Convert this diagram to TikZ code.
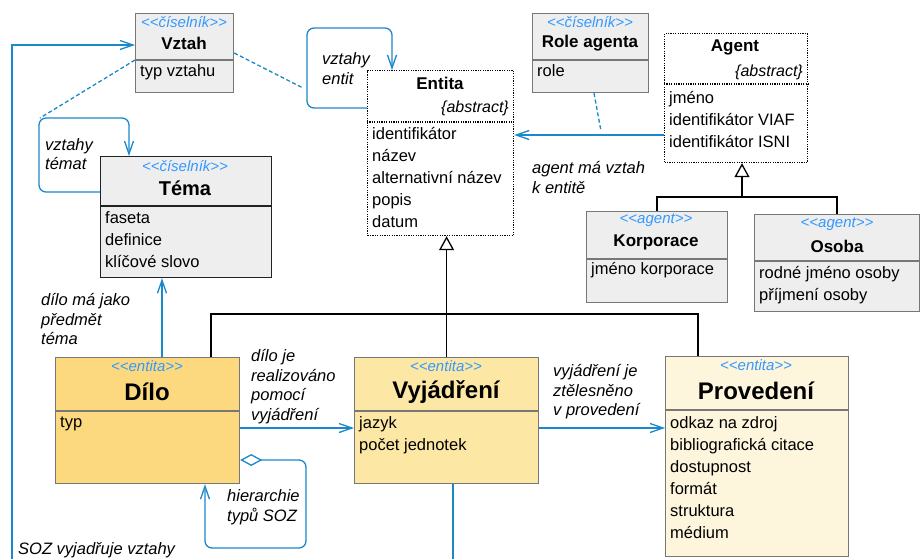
\documentclass[tikz,border=0pt]{standalone}
\usepackage{fontspec}
\setmainfont{Liberation Sans}
\usetikzlibrary{arrows.meta,calc}
\definecolor{boxgray}{HTML}{EEEEEE}
\definecolor{boxborder}{HTML}{777777}
\definecolor{temaborder}{HTML}{222222}
\definecolor{diloc}{HTML}{FCD97E}
\definecolor{vyjc}{HTML}{FDE7A4}
\definecolor{provc}{HTML}{FEF5DD}
\definecolor{linkblue}{HTML}{1A88C9}
\definecolor{stereoblue}{HTML}{3399FF}
\newcommand{\stereotxt}[1]{<\kern0pt<#1>\kern0pt>}
\begin{document}
\begin{tikzpicture}[x=1pt,y=-1pt,
  cls/.style={rectangle, inner sep=0pt, anchor=north west, line width=1.2pt},
  grayc/.style={cls, fill=boxgray, draw=boxborder},
  absc/.style={cls, fill=white, draw=black, dash pattern=on 1.2pt off 1.2pt},
  sepl/.style={line width=1.2pt, draw=boxborder},
  stereo/.style={font=\fontsize{15}{18}\selectfont\itshape, text=stereoblue, inner sep=0pt},
  ttl/.style={font=\fontsize{17}{20}\selectfont\bfseries, inner sep=0pt},
  bigttl/.style={font=\fontsize{24}{28}\selectfont\bfseries, inner sep=0pt},
  attrs/.style={font=\fontsize{16.5}{22}\selectfont, align=left, anchor=west, inner sep=0pt},
  lbl/.style={font=\fontsize{16.5}{19.5}\selectfont\itshape, align=left, anchor=west, inner sep=0pt},
  link/.style={draw=linkblue, line width=1.3pt},
  assoc/.style={link, -{Straight Barb[length=13pt,width=9pt,line width=1.3pt]}},
  dashl/.style={link, dash pattern=on 4pt off 2.5pt},
  gen/.style={draw=black, line width=1.3pt},
  gentip/.style={gen, -{Triangle[open,length=14pt,width=15pt,fill=white,line width=1.3pt]}}
]
\useasboundingbox (0,0) rectangle (920,558);

% ---------- boxes ----------
\node[grayc, minimum width=98pt, minimum height=79pt] (vztah) at (135,13) {};
\draw[sepl] ($(vztah.north west)+(0,47)$) -- ($(vztah.north east)+(0,47)$);
\node[stereo] (vztahS) at (184,22) {\stereotxt{číselník}};
\node[ttl] (vztahT) at (184,43) {Vztah};
\node[attrs] (vztahA) at (140,72) {typ vztahu};

\node[grayc, minimum width=116pt, minimum height=79pt] (role) at (532,13) {};
\draw[sepl] ($(role.north west)+(0,47)$) -- ($(role.north east)+(0,47)$);
\node[stereo] (roleS) at (590,22) {\stereotxt{číselník}};
\node[ttl] (roleT) at (590,43) {Role agenta};
\node[attrs] (roleA) at (537,71) {role};

\node[absc, minimum width=143pt, minimum height=129pt] (agent) at (664,33) {};
\draw[line width=1.2pt, dash pattern=on 1.2pt off 1.2pt] ($(agent.north west)+(0,51)$) -- ($(agent.north east)+(0,51)$);
\node[ttl] (agentT) at (735,47) {Agent};
\node[font=\fontsize{16}{19}\selectfont\itshape, anchor=east, inner sep=0pt] (agentAb) at (803,72) {\{abstract\}};
\node[attrs] (agentA) at (669,119) {jméno\\identifikátor VIAF\\identifikátor ISNI};

\node[absc, minimum width=146pt, minimum height=165pt] (entita) at (367,70) {};
\draw[line width=1.2pt, dash pattern=on 1.2pt off 1.2pt] ($(entita.north west)+(0,52)$) -- ($(entita.north east)+(0,52)$);
\node[ttl] (entitaT) at (440,83) {Entita};
\node[font=\fontsize{16}{19}\selectfont\itshape, anchor=east, inner sep=0pt] (entitaAb) at (509,108) {\{abstract\}};
\node[attrs] (entitaA) at (372,177) {identifikátor\\název\\alternativní název\\popis\\datum};

\node[cls, fill=boxgray, draw=temaborder, minimum width=171pt, minimum height=121pt] (tema) at (100,156) {};
\draw[line width=1.2pt, draw=temaborder] ($(tema.north west)+(0,50)$) -- ($(tema.north east)+(0,50)$);
\node[stereo] (temaS) at (185,166) {\stereotxt{číselník}};
\node[font=\fontsize{20}{24}\selectfont\bfseries, inner sep=0pt] (temaT) at (185,188) {Téma};
\node[attrs] (temaA) at (105,240) {faseta\\definice\\klíčové slovo};

\node[grayc, minimum width=141pt, minimum height=91pt] (korp) at (586,211) {};
\draw[sepl] ($(korp.north west)+(0,48)$) -- ($(korp.north east)+(0,48)$);
\node[stereo] (korpS) at (656,220) {\stereotxt{agent}};
\node[ttl] (korpT) at (656,242) {Korporace};
\node[attrs] (korpA) at (591,270) {jméno korporace};

\node[grayc, minimum width=165pt, minimum height=97pt] (osoba) at (754,214) {};
\draw[sepl] ($(osoba.north west)+(0,47)$) -- ($(osoba.north east)+(0,47)$);
\node[stereo] (osobaS) at (837,224) {\stereotxt{agent}};
\node[ttl] (osobaT) at (837,246) {Osoba};
\node[attrs] (osobaA) at (759,285) {rodné jméno osoby\\příjmení osoby};

\node[cls, fill=diloc, draw=boxborder, minimum width=184pt, minimum height=126pt] (dilo) at (55,357) {};
\draw[sepl] ($(dilo.north west)+(0,54)$) -- ($(dilo.north east)+(0,54)$);
\node[stereo] (diloS) at (147,366) {\stereotxt{entita}};
\node[bigttl] (diloT) at (147,392) {Dílo};
\node[attrs] (diloA) at (60,424) {typ};

\node[cls, fill=vyjc, draw=boxborder, minimum width=184pt, minimum height=126pt] (vyj) at (354,357) {};
\draw[sepl] ($(vyj.north west)+(0,54)$) -- ($(vyj.north east)+(0,54)$);
\node[stereo] (vyjS) at (446,366) {\stereotxt{entita}};
\node[bigttl] (vyjT) at (446,392) {Vyjádření};
\node[attrs] (vyjA) at (359,435) {jazyk\\počet jednotek};

\node[cls, fill=provc, draw=boxborder, minimum width=183pt, minimum height=200pt] (prov) at (665,356) {};
\draw[sepl] ($(prov.north west)+(0,54)$) -- ($(prov.north east)+(0,54)$);
\node[stereo] (provS) at (756,365) {\stereotxt{entita}};
\node[bigttl] (provT) at (756,391) {Provedení};
\node[attrs] (provA) at (670,477.5) {odkaz na zdroj\\bibliografická citace\\dostupnost\\formát\\struktura\\médium};

% ---------- generalizations ----------
\coordinate (ej) at (446,314);
\draw[gentip] (vyj.north) -- (vyj.north |- entita.south);
\draw[gen] ($(dilo.north west)+(156,0)$) |- (ej) -| ($(prov.north west)+(33,0)$);

\coordinate (aj) at (742,197);
\draw[gentip] (aj) -- (aj |- agent.south);
\draw[gen] (korp.north) |- (aj) -| (osoba.north);

% ---------- associations ----------
\draw[assoc] ($(dilo.north west)+(107,0)$) -- ($(tema.south west)+(62,0)$);
\draw[assoc] ($(dilo.north east)+(0,71)$) -- ($(vyj.north west)+(0,71)$);
\draw[assoc] ($(vyj.north east)+(0,71)$) -- ($(prov.north west)+(0,72)$);
\draw[link, rounded corners=7pt, {Diamond[open,length=22pt,width=12pt,line width=1.3pt]}-{Straight Barb[length=13pt,width=9pt,line width=1.3pt]}]
  ($(dilo.north east)+(0,103)$) -- (306,460) -- (306,548) -- (205,548) -- ($(dilo.south west)+(150,0)$);
\coordinate (vyjend) at (453,560);
\draw[link] ($(vyj.south west)+(99,0)$) -- (vyjend);
\coordinate (soz) at (12,560);
\draw[assoc] (soz) -- (12,45) -- ($(vztah.north west)+(0,32)$);
\draw[assoc, rounded corners=7pt] ($(tema.north west)+(0,36)$) -- (39,192) -- (39,118) -- (129,118) -- ($(tema.north west)+(29,0)$);
\draw[assoc, rounded corners=7pt] ($(entita.north west)+(0,38)$) -- (307,108) -- (307,28) -- (392,28) -- ($(entita.north west)+(25,0)$);
\draw[assoc] ($(agent.north west)+(0,102)$) -- ($(entita.north east)+(0,65)$);
\coordinate (vtl) at (40,118);
\coordinate (vtr) at (303,88);
\coordinate (ram) at (601,131);
\draw[dashl] ($(vztah.north west)+(0,47)$) -- (vtl);
\draw[dashl] ($(vztah.north east)+(0,40)$) -- (vtr);
\draw[dashl] ($(role.south west)+(62,0)$) -- (ram);

% ---------- labels ----------
\node[lbl] (l1) at (45,154) {vztahy\\témat};
\node[lbl] (l2) at (322,68.5) {vztahy\\entit};
\node[lbl] (l3) at (532,177.5) {agent má vztah\\k entitě};
\node[lbl] (l4) at (41,319) {dílo má jako\\předmět\\téma};
\node[lbl] (l5) at (251,386.5) {dílo je\\realizováno\\pomocí\\vyjádření};
\node[lbl] (l6) at (553,392) {vyjádření je\\ztělesněno\\v provedení};
\node[lbl] (l7) at (227,507) {hierarchie\\typů SOZ};
\node[lbl] (l8) at (18,550) {SOZ vyjadřuje vztahy};
\end{tikzpicture}
\end{document}
